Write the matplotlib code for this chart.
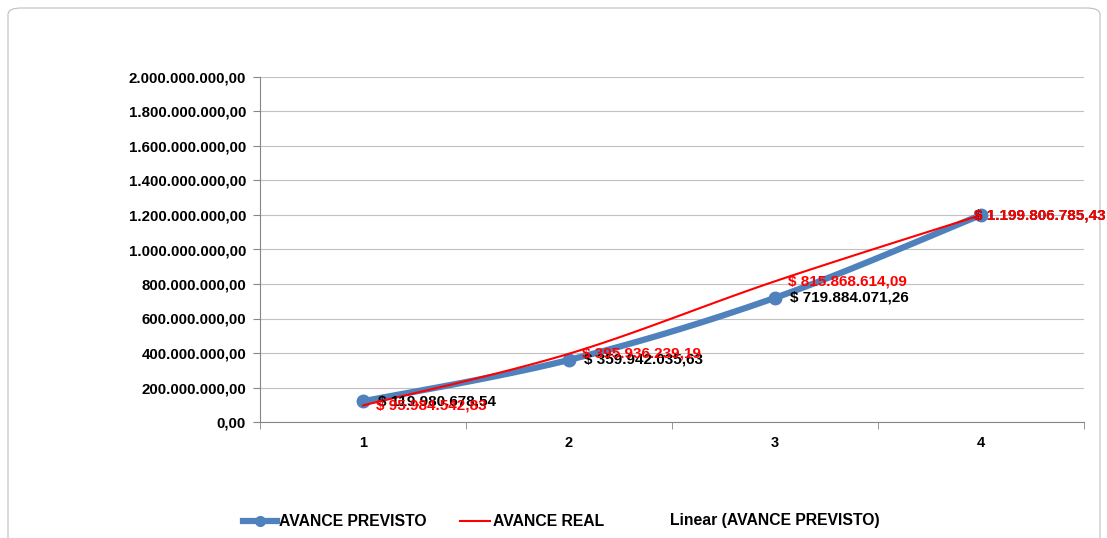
import matplotlib
matplotlib.use("Agg")
import matplotlib.pyplot as plt
import numpy as np
from matplotlib.lines import Line2D
from matplotlib.patches import FancyBboxPatch
from matplotlib.ticker import FixedLocator, FuncFormatter

plt.rcParams['font.family'] = ['Liberation Sans', 'DejaVu Sans']
plt.rcParams['font.weight'] = 'bold'

categories = [1, 2, 3, 4]
avance_previsto = [119980678.54, 359942035.63, 719884071.26, 1199806785.43]
avance_real = [95984542.83, 395936239.19, 815868614.09, 1199806785.43]
y_ticks = [0, 200e6, 400e6, 600e6, 800e6, 1000e6, 1200e6, 1400e6, 1600e6, 1800e6, 2000e6]

BLUE = '#4F81BD'
RED = '#FF0000'

def fmt_es(v, dec=2):
    s = f"{v:,.{dec}f}"
    return s.replace(',', 'X').replace('.', ',').replace('X', '.')

def smooth(xs, ys, n=40):
    xs = np.asarray(xs, float); ys = np.asarray(ys, float)
    px = np.concatenate([[xs[0]], xs, [xs[-1]]])
    py = np.concatenate([[ys[0]], ys, [ys[-1]]])
    ox, oy = [], []
    t = np.linspace(0, 1, n)
    for i in range(1, len(px) - 2):
        p0 = np.array([px[i], py[i]]); p3 = np.array([px[i+1], py[i+1]])
        p1 = p0 + (np.array([px[i+1], py[i+1]]) - np.array([px[i-1], py[i-1]])) / 6
        p2 = p3 - (np.array([px[i+2], py[i+2]]) - np.array([px[i], py[i]])) / 6
        b = ((1-t)**3)[:, None]*p0 + (3*(1-t)**2*t)[:, None]*p1 + (3*(1-t)*t**2)[:, None]*p2 + (t**3)[:, None]*p3
        ox.extend(b[:, 0]); oy.extend(b[:, 1])
    return np.array(ox), np.array(oy)

W, H = 1107, 538
fig = plt.figure(figsize=(W/100, H/100), dpi=100)

border = FancyBboxPatch((8/W, -20/H), (1100-8)/W, (530+20)/H,
                        boxstyle="round,pad=0,rounding_size=0.012",
                        transform=fig.transFigure, facecolor='none',
                        edgecolor='#BFBFBF', linewidth=0.8, zorder=-1)
fig.patches.append(border)

ax = fig.add_axes([260/W, (H-422)/H, (1084-260)/W, (422-77)/H])
ax.set_xlim(0.5, 4.5)
ax.set_ylim(0, 2000e6)
ax.patch.set_alpha(0)

ax.yaxis.set_major_locator(FixedLocator(y_ticks))
ax.yaxis.set_major_formatter(FuncFormatter(lambda v, p: fmt_es(v)))
ax.set_xticks(categories)
ax.set_xticklabels([str(c) for c in categories])
ax.xaxis.set_minor_locator(FixedLocator([0.5, 1.5, 2.5, 3.5, 4.5]))
ax.tick_params(axis='x', which='major', length=0, pad=10, labelsize=10.5)
ax.tick_params(axis='x', which='minor', length=5, color='#868686', direction='out')
ax.tick_params(axis='y', length=5, color='#868686', direction='out', labelsize=10.8, pad=5)
for lab in ax.get_xticklabels() + ax.get_yticklabels():
    lab.set_fontweight('bold')

ax.grid(axis='y', color='#C0C0C0', linewidth=0.8)
ax.set_axisbelow(True)
for s in ['top', 'right']:
    ax.spines[s].set_visible(False)
ax.spines['left'].set_color('#868686')
ax.spines['bottom'].set_color('#868686')

sx, sy = smooth(categories, avance_previsto)
ax.plot(sx, sy, color=BLUE, linewidth=4.5, solid_capstyle='round', zorder=3)
ax.plot(categories, avance_previsto, 'o', color=BLUE, markersize=9, zorder=4)
rx, ry = smooth(categories, avance_real)
ax.plot(rx, ry, color=RED, linewidth=1.5, zorder=5)

for i, (c, v) in enumerate(zip(categories, avance_previsto)):
    dx = 15 if i < 3 else -7
    ax.annotate('$ ' + fmt_es(v), (c, v), xytext=(dx, 0), textcoords='offset pixels',
                va='center', ha='left', fontsize=11, fontweight='bold', color='black', zorder=6)
for i, (c, v) in enumerate(zip(categories, avance_real)):
    dx = 13 if i < 3 else -7
    ax.annotate('$ ' + fmt_es(v), (c, v), xytext=(dx, 0), textcoords='offset pixels',
                va='center', ha='left', fontsize=11, fontweight='bold', color=RED, zorder=7)

# legend
ly = (H - 521) / H
fig.add_artist(Line2D([243/W, 277/W], [ly, ly], color=BLUE, linewidth=4.5, transform=fig.transFigure))
fig.add_artist(Line2D([260/W], [ly], marker='o', color=BLUE, markersize=7, transform=fig.transFigure))
fig.text(279/W, ly, 'AVANCE PREVISTO', fontsize=11.3, fontweight='bold', va='center', ha='left')
fig.add_artist(Line2D([460/W, 490/W], [ly, ly], color=RED, linewidth=1.5, transform=fig.transFigure))
fig.text(493/W, ly, 'AVANCE REAL', fontsize=11.3, fontweight='bold', va='center', ha='left')
fig.text(670/W, ly, 'Linear (AVANCE PREVISTO)', fontsize=11.3, fontweight='bold', va='center', ha='left')

fig.savefig('out.png', dpi=100)
